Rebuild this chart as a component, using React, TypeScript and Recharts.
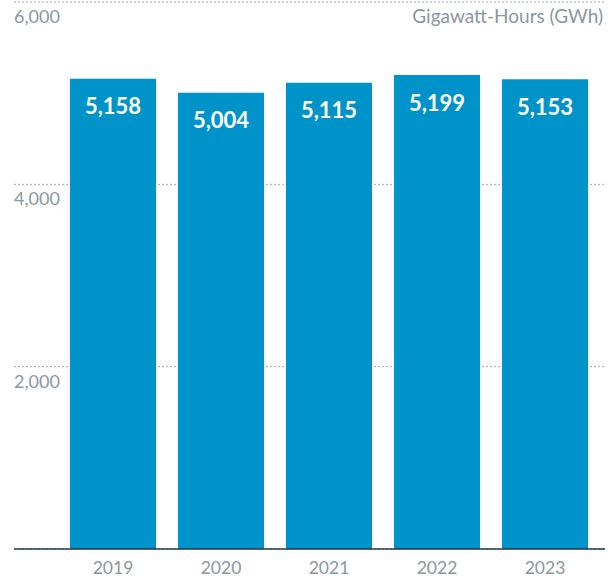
import React from 'react';
import { BarChart, Bar, XAxis, YAxis, CartesianGrid, LabelList } from 'recharts';

const years = ['2019', '2020', '2021', '2022', '2023'];
const energy = [5158, 5004, 5115, 5199, 5153];
const yTicks = [0, 2000, 4000, 6000];

const data = years.map((year, i) => ({ year, energy: energy[i] }));

const GRAY = '#8a979e';
const BLUE = '#0093c9';

const fmt = (v: number) => v.toLocaleString('en-US');

const YTick = (props: any) => {
  const { x, y, payload } = props;
  if (payload.value === 0) return null;
  return (
    <text x={x} y={y} dy={21} textAnchor="start" fill={GRAY} fontSize={18} fontFamily="Lato">
      {fmt(payload.value)}
    </text>
  );
};

const XTick = (props: any) => {
  const { x, y, payload } = props;
  return (
    <text x={x} y={y} dy={25} textAnchor="middle" fill={GRAY} fontSize={17.5} fontFamily="Lato">
      {payload.value}
    </text>
  );
};

const App = () => {
  return (
    <div style={{ position: 'absolute', left: 0, top: 0, width: 616, height: 582, background: '#fff' }}>
      <div
        style={{
          position: 'absolute',
          right: 13,
          top: 5,
          fontFamily: 'Lato',
          fontSize: 19,
          color: GRAY,
          lineHeight: '22px',
        }}
      >
        Gigawatt-Hours (GWh)
      </div>
      <BarChart
        width={616}
        height={582}
        data={data}
        margin={{ top: 2, right: 11, left: 0, bottom: 0 }}
      >
        <CartesianGrid vertical={false} stroke="#9aa6ad" strokeDasharray="2 2" />
        <XAxis
          dataKey="year"
          height={33}
          padding={{ left: 45, right: 6 }}
          tickSize={0}
          tickMargin={0}
          tickLine={false}
          axisLine={{ stroke: '#1d3955', strokeWidth: 1.5 }}
          tick={<XTick />}
        />
        <YAxis
          width={14}
          domain={[0, 6000]}
          ticks={yTicks}
          interval={0}
          tickSize={0}
          tickMargin={0}
          tickLine={false}
          axisLine={false}
          tick={<YTick />}
        />
        <Bar dataKey="energy" fill={BLUE} barSize={86} isAnimationActive={false}>
          <LabelList
            dataKey="energy"
            position="insideTop"
            offset={20}
            formatter={(v: any) => fmt(Number(v))}
            fill="#ffffff"
            fontSize={22}
            fontWeight={700}
            fontFamily="Lato"
          />
        </Bar>
      </BarChart>
    </div>
  );
};

export default App;
